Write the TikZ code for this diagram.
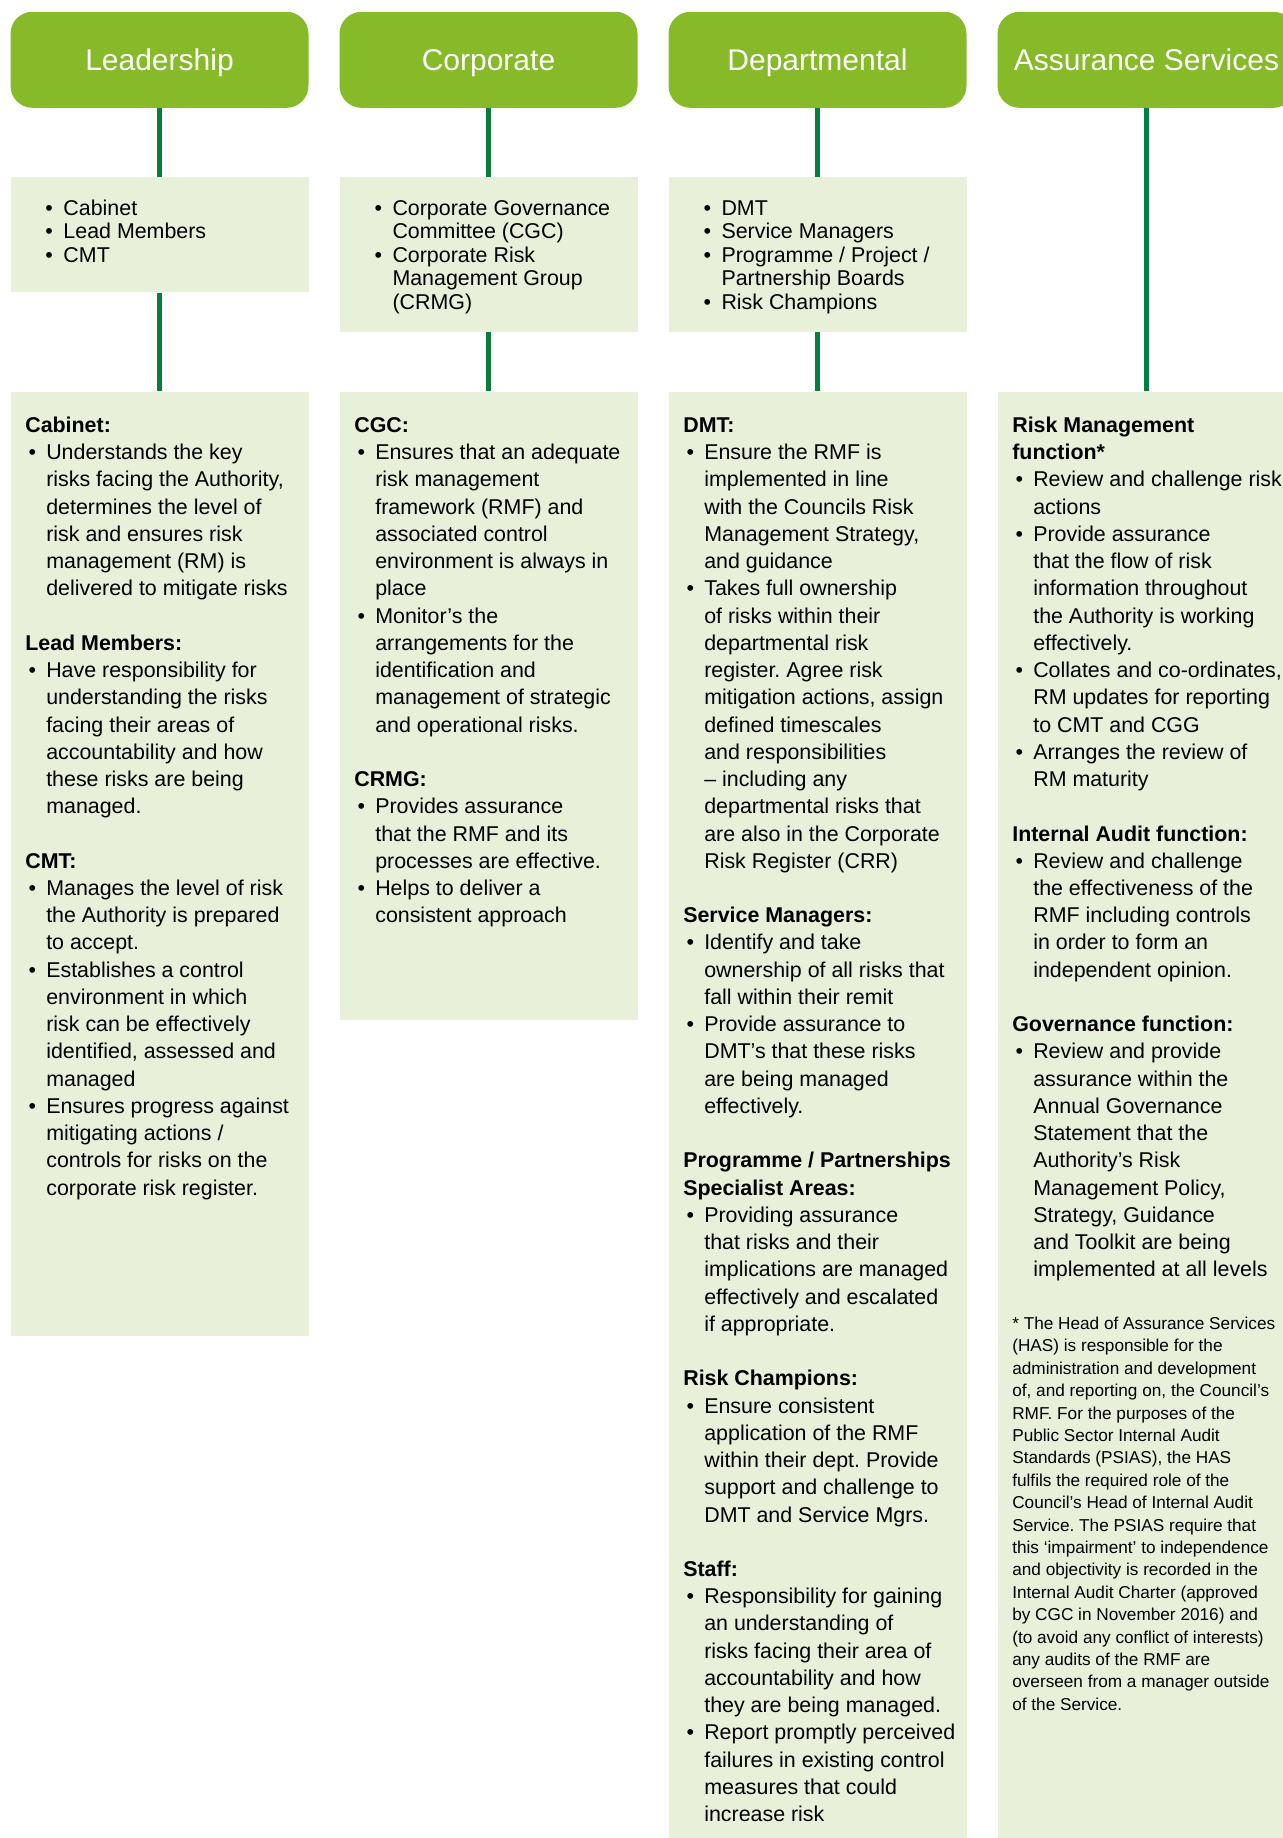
\documentclass[tikz,border=0pt]{standalone}
\usepackage{fontspec}
\setmainfont{Liberation Sans}
\usepackage{xcolor}
\usepackage{tikz}
\usetikzlibrary{positioning}
\definecolor{headgreen}{RGB}{134,186,41}
\definecolor{palegreen}{RGB}{232,240,218}
\definecolor{linkgreen}{RGB}{10,125,60}
\frenchspacing
%% bullets for the first row and for the role boxes
\newcommand{\blt}{\makebox[9pt][l]{\textbullet}}
\newcommand{\bcnt}{\hspace*{9pt}}
\newcommand{\bul}{\hspace*{1.6pt}\makebox[8.9pt][l]{\textbullet}}
\newcommand{\cnt}{\hspace*{10.5pt}}
\newcommand{\topstrut}{\rule{0pt}{10pt}}

\begin{document}
\begin{tikzpicture}[x=1pt, y=-1pt,
	headbox/.style={fill=headgreen, rounded corners=11pt, minimum width=149pt, minimum height=48pt, inner sep=0pt, text height=10.7pt, text depth=0pt, text=white, font=\fontsize{15}{18}\selectfont},
	listbox/.style={fill=palegreen, minimum width=149pt, inner sep=0pt, anchor=north},
	link/.style={draw=linkgreen, line width=2.5pt},
	listtxt/.style={anchor=north west, inner sep=0pt, align=left, font=\fontsize{10.7}{11.7}\selectfont},
	roletxt/.style={anchor=north west, inner sep=0pt, align=left, font=\fontsize{10.7}{13.62}\selectfont},
	notetxt/.style={anchor=north west, inner sep=0pt, align=left, font=\fontsize{8.6}{11.2}\selectfont}]
	\clip (0,0) rectangle (641.5,919);
	\pgfmathsetmacro{\colL}{79.75}
	\pgfmathsetmacro{\colC}{244.25}
	\pgfmathsetmacro{\colD}{408.75}
	\pgfmathsetmacro{\colA}{573.25}
	
	%% headers
	\node[headbox] (leadHead) at (\colL,29.9) {Leadership};
	\node[headbox] (corpHead) at (\colC,29.9) {Corporate};
	\node[headbox] (deptHead) at (\colD,29.9) {Departmental};
	\node[headbox] (assurHead) at (\colA,29.9) {Assurance Services};
	
	%% who
	\node[listbox, minimum height=57.4pt] (leadList) at (\colL,88.5) {};
	\node[listbox, minimum height=77.3pt] (corpList) at (\colC,88.5) {};
	\node[listbox, minimum height=77.3pt] (deptList) at (\colD,88.5) {};
	
	%% roles
	\node[listbox, minimum height=472.3pt] (leadRole) at (\colL,195.6) {};
	\node[listbox, minimum height=314.1pt] (corpRole) at (\colC,195.6) {};
	\node[listbox, minimum height=730pt] (deptRole) at (\colD,195.6) {};
	\node[listbox, minimum height=730pt] (assurRole) at (\colA,195.6) {};
	
	\draw[link] (leadHead) -- (leadList);
	\draw[link] (leadList) -- (leadRole);
	\draw[link] (corpHead) -- (corpList);
	\draw[link] (corpList) -- (corpRole);
	\draw[link] (deptHead) -- (deptList);
	\draw[link] (deptList) -- (deptRole);
	\draw[link] (assurHead) -- (assurRole);
	
	\node[listtxt] (leadWho) at (\colL-57.2,97.5) {\topstrut\blt Cabinet\\\blt Lead Members\\\blt CMT};
	\node[listtxt] (corpWho) at (\colC-57.2,97.5) {\topstrut\blt Corporate Governance\\\bcnt Committee (CGC)\\\blt Corporate Risk\\\bcnt Management Group\\\bcnt (CRMG)};
	\node[listtxt] (deptWho) at (\colD-57.2,97.5) {\topstrut\blt DMT\\\blt Service Managers\\\blt Programme / Project /\\\bcnt Partnership Boards\\\blt Risk Champions};
	
	\node[roletxt] (leadText) at (\colL-67.3,206) {\topstrut\textbf{Cabinet:}\\
		\bul Understands the key\\
		\cnt risks facing the Authority,\\
		\cnt determines the level of\\
		\cnt risk and ensures risk\\
		\cnt management (RM) is\\
		\cnt delivered to mitigate risks\\[13.62pt]
		\textbf{Lead Members:}\\
		\bul Have responsibility for\\
		\cnt understanding the risks\\
		\cnt facing their areas of\\
		\cnt accountability and how\\
		\cnt these risks are being\\
		\cnt managed.\\[13.62pt]
		\textbf{CMT:}\\
		\bul Manages the level of risk\\
		\cnt the Authority is prepared\\
		\cnt to accept.\\
		\bul Establishes a control\\
		\cnt environment in which\\
		\cnt risk can be effectively\\
		\cnt identified, assessed and\\
		\cnt managed\\
		\bul Ensures progress against\\
		\cnt mitigating actions /\\
		\cnt controls for risks on the\\
		\cnt corporate risk register.};
	
	\node[roletxt] (corpText) at (\colC-67.3,206) {\topstrut\textbf{CGC:}\\
		\bul Ensures that an adequate\\
		\cnt risk management\\
		\cnt framework (RMF) and\\
		\cnt associated control\\
		\cnt environment is always in\\
		\cnt place\\
		\bul Monitor’s the\\
		\cnt arrangements for the\\
		\cnt identification and\\
		\cnt management of strategic\\
		\cnt and operational risks.\\[13.62pt]
		\textbf{CRMG:}\\
		\bul Provides assurance\\
		\cnt that the RMF and its\\
		\cnt processes are effective.\\
		\bul Helps to deliver a\\
		\cnt consistent approach};
	
	\node[roletxt] (deptText) at (\colD-67.3,206) {\topstrut\textbf{DMT:}\\
		\bul Ensure the RMF is\\
		\cnt implemented in line\\
		\cnt with the Councils Risk\\
		\cnt Management Strategy,\\
		\cnt and guidance\\
		\bul Takes full ownership\\
		\cnt of risks within their\\
		\cnt departmental risk\\
		\cnt register. Agree risk\\
		\cnt mitigation actions, assign\\
		\cnt defined timescales\\
		\cnt and responsibilities\\
		\cnt – including any\\
		\cnt departmental risks that\\
		\cnt are also in the Corporate\\
		\cnt Risk Register (CRR)\\[13.62pt]
		\textbf{Service Managers:}\\
		\bul Identify and take\\
		\cnt ownership of all risks that\\
		\cnt fall within their remit\\
		\bul Provide assurance to\\
		\cnt DMT’s that these risks\\
		\cnt are being managed\\
		\cnt effectively.\\[13.62pt]
		\textbf{Programme / Partnerships}\\
		\textbf{Specialist Areas:}\\
		\bul Providing assurance\\
		\cnt that risks and their\\
		\cnt implications are managed\\
		\cnt effectively and escalated\\
		\cnt if appropriate.\\[13.62pt]
		\textbf{Risk Champions:}\\
		\bul Ensure consistent\\
		\cnt application of the RMF\\
		\cnt within their dept. Provide\\
		\cnt support and challenge to\\
		\cnt DMT and Service Mgrs.\\[13.62pt]
		\textbf{Staff:}\\
		\bul Responsibility for gaining\\
		\cnt an understanding of\\
		\cnt risks facing their area of\\
		\cnt accountability and how\\
		\cnt they are being managed.\\
		\bul Report promptly perceived\\
		\cnt failures in existing control\\
		\cnt measures that could\\
		\cnt increase risk};
	
	\node[roletxt] (assurText) at (\colA-67.3,206) {\topstrut\textbf{Risk Management}\\
		\textbf{function*}\\
		\bul Review and challenge risk\\
		\cnt actions\\
		\bul Provide assurance\\
		\cnt that the flow of risk\\
		\cnt information throughout\\
		\cnt the Authority is working\\
		\cnt effectively.\\
		\bul Collates and co-ordinates,\\
		\cnt RM updates for reporting\\
		\cnt to CMT and CGG\\
		\bul Arranges the review of\\
		\cnt RM maturity\\[13.62pt]
		\textbf{Internal Audit function:}\\
		\bul Review and challenge\\
		\cnt the effectiveness of the\\
		\cnt RMF including controls\\
		\cnt in order to form an\\
		\cnt independent opinion.\\[13.62pt]
		\textbf{Governance function:}\\
		\bul Review and provide\\
		\cnt assurance within the\\
		\cnt Annual Governance\\
		\cnt Statement that the\\
		\cnt Authority’s Risk\\
		\cnt Management Policy,\\
		\cnt Strategy, Guidance\\
		\cnt and Toolkit are being\\
		\cnt implemented at all levels};
	
	\node[notetxt] (assurNote) at (\colA-67.3,655.5) {\rule{0pt}{9pt}* The Head of Assurance Services\\
		(HAS) is responsible for the\\
		administration and development\\
		of, and reporting on, the Council’s\\
		RMF. For the purposes of the\\
		Public Sector Internal Audit\\
		Standards (PSIAS), the HAS\\
		fulfils the required role of the\\
		Council’s Head of Internal Audit\\
		Service. The PSIAS require that\\
		this ‘impairment’ to independence\\
		and objectivity is recorded in the\\
		Internal Audit Charter (approved\\
		by CGC in November 2016) and\\
		(to avoid any conflict of interests)\\
		any audits of the RMF are\\
		overseen from a manager outside\\
		of the Service.};
\end{tikzpicture}
\end{document}
